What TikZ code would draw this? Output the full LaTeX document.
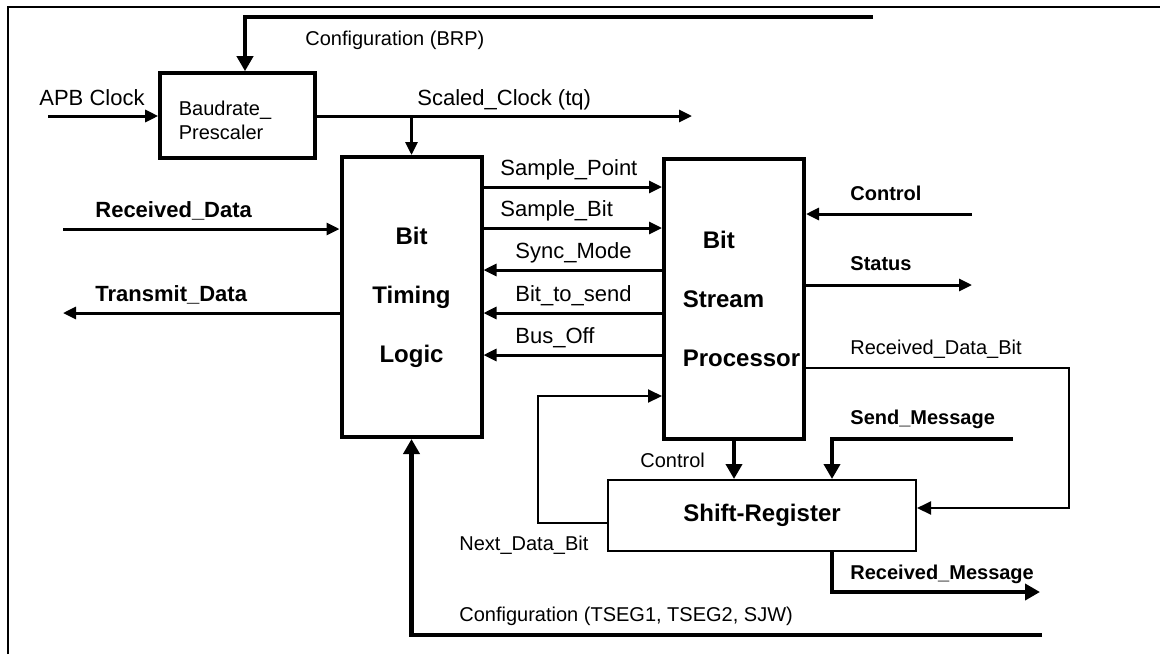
\documentclass[tikz,border=0pt]{standalone}
\usepackage{fontspec}
\setmainfont{Liberation Sans}
\usetikzlibrary{arrows.meta, positioning, calc}

\begin{document}
\begin{tikzpicture}[
    x=0.5pt, y=-0.5pt,
    every node/.style={font=\fontsize{11}{13}\selectfont},
    block/.style={rectangle, draw=black, line width=2pt, minimum width=70pt, minimum height=140pt, font=\fontsize{12}{29.5}\selectfont\bfseries, align=center},
    prescaler/.style={rectangle, draw=black, line width=1.8pt, minimum width=77.5pt, minimum height=42.5pt},
    shifter/.style={rectangle, draw=black, line width=1pt, minimum width=154pt, minimum height=35.5pt, font=\fontsize{12}{14}\selectfont\bfseries},
    sig/.style={-{Triangle[length=6.5pt,width=6pt]}, line width=1.5pt},
    bus/.style={-{Triangle[length=7.5pt,width=8pt]}, line width=2.2pt},
    wire/.style={-{Triangle[length=7pt,width=6.5pt]}, line width=1pt},
    lbl/.style={inner sep=0pt, anchor=base west},
    slbl/.style={lbl, font=\fontsize{10}{12}\selectfont},
    blbl/.style={lbl, font=\fontsize{11}{13}\selectfont\bfseries},
    sblbl/.style={lbl, font=\fontsize{10}{12}\selectfont\bfseries}
]
\useasboundingbox (0,0) rectangle (1160,654);

% Frame
\draw[line width=0.8pt] (8,654) -- (8,7) -- (1160,7);

% Blocks
\node (baud) [prescaler] at (237.5,115.5) {};
\node (baud_title) [font=\fontsize{10}{12}\selectfont, align=left, inner sep=0pt] at ([xshift=-6.25pt,yshift=-2.5pt]baud.center) {Baudrate\_\\Prescaler};
\node (btl) [block] at (411.5,297) {Bit\\Timing\\Logic};
\node (bsp) [block] at (734,298.5) {};
\node (bsp_title) [font=\fontsize{12}{29.5}\selectfont\bfseries, align=left] at ([xshift=3.75pt]bsp.center) {\hspace*{10pt}Bit\\Stream\\Processor};
\node (shreg) [shifter] at (762,515.5) {Shift-Register};

% Free ends
\coordinate (brpin) at (873,17);
\coordinate (apbin) at (48,116);
\coordinate (tqout) at (692,116);
\coordinate (rxin) at (63,229);
\coordinate (txout) at (63,313);
\coordinate (ctlin) at (972,214);
\coordinate (stout) at (972,285);
\coordinate (rdbturn) at (1069,368);
\coordinate (ndbturn) at (538,396);
\coordinate (smin) at (1013,439);
\coordinate (rmout) at (1040,592);
\coordinate (tsegin) at (1042,635);

% Clock and configuration
\draw [bus] (brpin) -| ([xshift=3.75pt]baud.north);
\draw [sig] (apbin) -- (baud.west |- apbin);
\draw [sig] (baud.east |- tqout) -- (tqout);
\draw [sig] (btl.north |- tqout) -- (btl.north);
\draw [bus] (tsegin) -| (btl.south);

% Data in and out
\draw [sig] (rxin) -- (btl.west |- rxin);
\draw [sig] (btl.west |- txout) -- (txout);

% Timing logic <-> stream processor
\draw [sig] (btl.east |- 0,187) -- (bsp.west |- 0,187);
\draw [sig] (btl.east |- 0,228) -- (bsp.west |- 0,228);
\draw [sig] (bsp.west |- 0,270) -- (btl.east |- 0,270);
\draw [sig] (bsp.west |- 0,313) -- (btl.east |- 0,313);
\draw [sig] (bsp.west |- 0,355) -- (btl.east |- 0,355);

% Stream processor side
\draw [sig] (ctlin) -- (bsp.east |- ctlin);
\draw [sig] (bsp.east |- stout) -- (stout);
\draw [wire] (bsp.east |- rdbturn) -- (rdbturn) |- ([yshift=3.75pt]shreg.east);
\draw [wire] ([yshift=-3.75pt]shreg.west) -| (ndbturn) -- (bsp.west |- ndbturn);
\draw [bus] (bsp.south) -- (bsp.south |- shreg.north);

% Shift register messages
\draw [bus] (smin) -| ([xshift=35pt]shreg.north);
\draw [bus] ([xshift=35pt]shreg.south) |- (rmout);

% Labels
\node (l_brp) [slbl] at (305,45) {Configuration (BRP)};
\node (l_apb) [lbl] at (39,105) {APB Clock};
\node (l_tq) [lbl] at (417,105) {Scaled\_Clock (tq)};
\node (l_rx) [blbl] at (95,217) {Received\_Data};
\node (l_tx) [blbl] at (95,301) {Transmit\_Data};
\node (l_sp) [lbl] at (500,175) {Sample\_Point};
\node (l_sb) [lbl] at (500,216) {Sample\_Bit};
\node (l_sm) [lbl] at (515,258) {Sync\_Mode};
\node (l_bts) [lbl] at (515,301) {Bit\_to\_send};
\node (l_bo) [lbl] at (515,343) {Bus\_Off};
\node (l_ctl) [sblbl] at (850,200) {Control};
\node (l_st) [sblbl] at (850,270) {Status};
\node (l_rdb) [slbl] at (850,354) {Received\_Data\_Bit};
\node (l_sm2) [sblbl] at (850,424) {Send\_Message};
\node (l_ctl2) [slbl] at (640,467) {Control};
\node (l_ndb) [slbl] at (459,550) {Next\_Data\_Bit};
\node (l_rm) [sblbl] at (850,579) {Received\_Message};
\node (l_tseg) [slbl] at (459,621) {Configuration (TSEG1, TSEG2, SJW)};

\end{tikzpicture}
\end{document}
